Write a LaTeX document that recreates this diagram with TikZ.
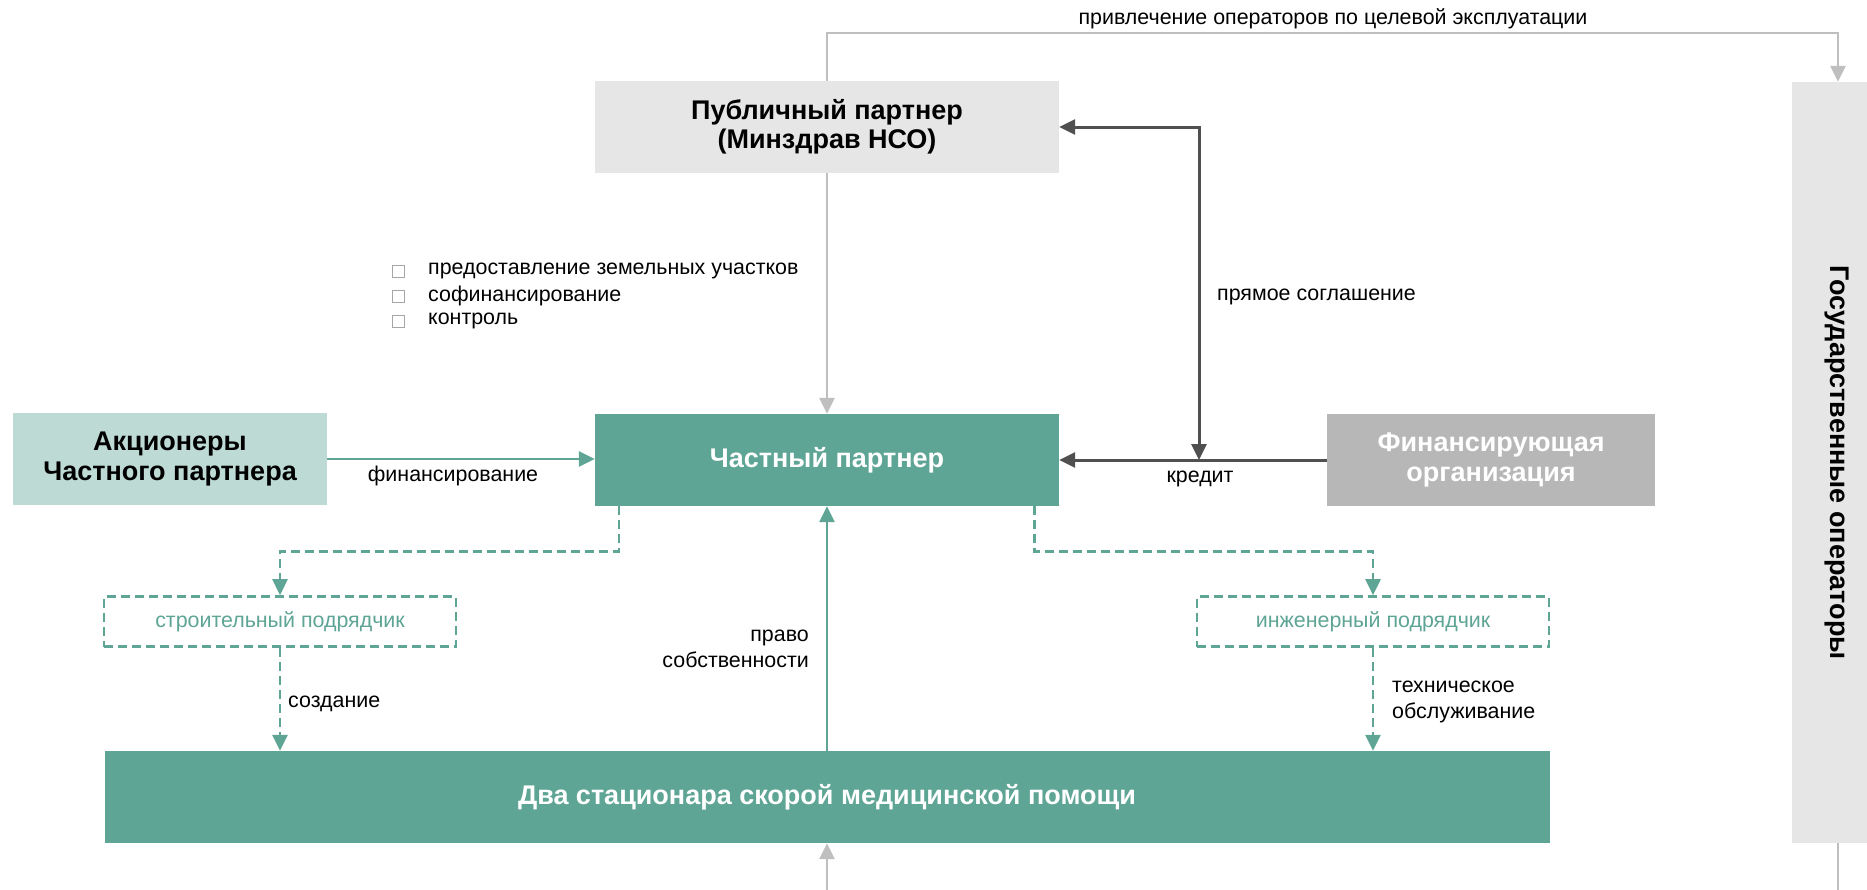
\documentclass[tikz,border=0pt]{standalone}
\usepackage{fontspec}
\setmainfont{Liberation Sans}
\usetikzlibrary{arrows.meta,calc}
\definecolor{tealA}{HTML}{5FA596}
\definecolor{tealL}{HTML}{BDDAD4}
\definecolor{boxgray}{HTML}{E6E6E6}
\definecolor{fingray}{HTML}{B7B7B7}
\definecolor{linegray}{HTML}{BFBFBF}
\definecolor{darkln}{HTML}{505050}
\definecolor{bulgray}{HTML}{A6A6A6}
\newcommand\lblfont{\fontsize{21.4}{25.8}\selectfont}
\newcommand\ttlfont{\fontsize{27}{29.5}\selectfont\bfseries}
\begin{document}
\begin{tikzpicture}[x=1pt,y=-1pt,
  box/.style={rectangle,inner sep=0pt,align=center,font=\ttlfont},
  dbox/.style={rectangle,inner sep=0pt,align=center,draw=tealA,line width=2.6pt,
     dash pattern=on 9pt off 5pt,text=tealA,font=\lblfont,fill=white},
  lbl/.style={inner sep=0pt,font=\lblfont,align=left},
  tip/.style={-{Triangle[length=16pt,width=15pt]}},
  grayln/.style={draw=linegray,line width=2.7pt,tip},
  darkarr/.style={draw=darkln,line width=3pt},
  greenln/.style={draw=tealA,line width=2.6pt,tip},
  dashln/.style={draw=tealA,line width=2.6pt,dash pattern=on 9pt off 5pt,tip},
  bulsq/.style={rectangle,draw=bulgray,line width=0.9pt,minimum size=12pt,inner sep=0pt}]
\useasboundingbox (0,0) rectangle (1867,889);
\clip (0,0) rectangle (1867,889);

% boxes
\node[box,fill=boxgray,minimum width=464pt,minimum height=92pt] (pub) at (827,127)
  {Публичный партнер\\(Минздрав НСО)};
\node[box,fill=tealA,text=white,minimum width=464pt,minimum height=92pt] (priv) at (827,460)
  {Частный партнер};
\node[box,fill=tealL,minimum width=314pt,minimum height=92pt] (share) at (170,459)
  {Акционеры\\Частного партнера};
\node[box,fill=fingray,text=white,minimum width=328pt,minimum height=92pt] (fin) at (1491,460)
  {Финансирующая\\организация};
\node[box,fill=boxgray,minimum width=92pt,minimum height=761pt] (ops) at (1838,462.5) {};
\node[box,rotate=-90,inner sep=0pt] (opstext) at (1837,462.5) {Государственные операторы};
\node[box,fill=tealA,text=white,minimum width=1445pt,minimum height=92pt] (hosp) at (827,797)
  {Два стационара скорой медицинской помощи};
\node[dbox,minimum width=352pt,minimum height=50pt] (build) at (280,621.5) {строительный подрядчик};
\node[dbox,minimum width=352pt,minimum height=50pt] (eng) at (1373,621.5) {инженерный подрядчик};

% bullets
\node[bulsq] (b1) at (398,271) {};
\node[bulsq] (b2) at (398,296) {};
\node[bulsq] (b3) at (398,321) {};
\node[lbl,anchor=west] (t1) at (428,271) {предоставление земельных участков};
\node[lbl,anchor=west] (t2) at (428,296) {софинансирование};
\node[lbl,anchor=west] (t3) at (428,321) {контроль};

% top connector to operators
\coordinate (topR) at (1838,33);
\draw[grayln] (pub.north) |- (topR) -- (ops.north);
\node[lbl] (lbltop) at (1333,19) {привлечение операторов по целевой эксплуатации};

% public -> private
\draw[grayln] (pub.south) -- (priv.north);

% direct agreement
\coordinate (cj) at (1199,460);
\draw[darkarr,{Triangle[length=16pt,width=15pt]}-{Triangle[length=16pt,width=15pt]}] (pub.east) -| (cj);
\node[lbl,anchor=west] (lbldirect) at (1217,297) {прямое соглашение};

% credit
\draw[darkarr,tip] (fin.west) -- (priv.east);
\node[lbl] (lblcredit) at (1200,479) {кредит};

% financing
\draw[greenln] (share.east) -- (share.east -| priv.west);
\node[lbl] (lblfin) at (453,476) {финансирование};

% dashed contractors
\draw[dashln] ([xshift=24pt]priv.south west) -- ++(0,45) -| (build.north);
\draw[dashln] ([xshift=-25pt]priv.south east) -- ++(0,45) -| (eng.north);
\draw[dashln] (build.south) -- (build.south |- hosp.north);
\node[lbl,anchor=west] (lblcreate) at (288,704) {создание};
\draw[dashln] (eng.south) -- (eng.south |- hosp.north);
\node[lbl,anchor=west] (lbltech) at (1392,702) {техническое\\обслуживание};

% ownership
\draw[greenln] (hosp.north) -- (priv.south);
\node[lbl,anchor=east,align=right] (lblown) at (809,649) {право\\собственности};

% operators -> hospital (runs below the visible area)
\coordinate (botR) at (1838,930);
\draw[grayln] (ops.south) -- (botR) -| (hosp.south);
\end{tikzpicture}
\end{document}
